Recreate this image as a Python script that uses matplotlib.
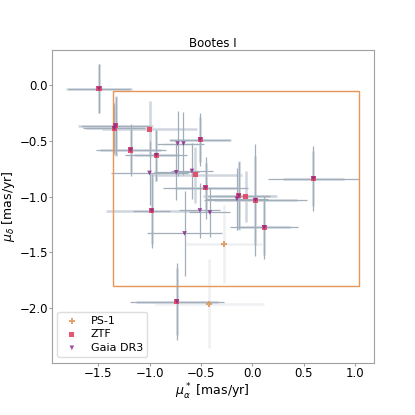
import matplotlib
matplotlib.use("Agg")
import matplotlib.pyplot as plt
from matplotlib.patches import Rectangle

# Gaia DR3 proper motions (mas/yr)
gaia_pmra = [-1.49, -1.33, -1.343, -1.184, -0.935, -0.728, -0.670, -0.508, -1.000, -0.741,
             -0.588, -0.456, -0.977, -0.511, -0.414, -0.660, -0.132, -0.151, 0.029, 0.592,
             0.114, -0.734]
gaia_pmdec = [-0.030, -0.362, -0.385, -0.580, -0.627, -0.522, -0.522, -0.487, -0.786, -0.780,
              -0.768, -0.920, -1.126, -1.123, -1.141, -1.329, -0.992, -1.019, -1.030, -0.836,
              -1.275, -1.942]
gaia_pmra_err = [0.30, 0.34, 0.30, 0.34, 0.30, 0.20, 0.20, 0.29, 0.37, 0.22,
                 0.20, 0.41, 0.18, 0.20, 0.20, 0.36, 0.30, 0.30, 0.50, 0.44,
                 0.33, 0.46]
gaia_pmdec_err = [0.22, 0.26, 0.22, 0.23, 0.23, 0.29, 0.28, 0.24, 0.29, 0.25,
                  0.25, 0.28, 0.33, 0.25, 0.22, 0.38, 0.30, 0.28, 0.50, 0.29,
                  0.28, 0.345]

# ZTF proper motions (mas/yr)
ztf_pmra = [-1.49, -1.33, -1.343, -1.000, -1.184, -0.935, -0.508, -0.554, -0.456, -0.977,
            -0.132, -0.066, 0.029, 0.592, 0.114, -0.734]
ztf_pmdec = [-0.030, -0.362, -0.385, -0.394, -0.580, -0.627, -0.487, -0.802, -0.920, -1.126,
             -0.992, -0.995, -1.030, -0.836, -1.275, -1.942]
ztf_pmra_err = [0.32, 0.36, 0.27, 0.46, 0.30, 0.22, 0.30, 0.45, 0.30, 0.45,
                0.35, 0.30, 0.40, 0.30, 0.25, 0.40]
ztf_pmdec_err = [0.22, 0.27, 0.24, 0.25, 0.20, 0.23, 0.20, 0.25, 0.22, 0.30,
                 0.31, 0.23, 0.40, 0.25, 0.25, 0.30]

# PS-1 proper motions (mas/yr)
ps1_pmra = [-0.278, -0.420]
ps1_pmdec = [-1.422, -1.962]
ps1_pmra_err = [0.37, 0.53]
ps1_pmdec_err = [0.35, 0.40]

# selection box in proper-motion space
box_pmra = [-1.355, 1.033]
box_pmdec = [-1.80, -0.054]

fig, ax = plt.subplots(figsize=(4.15, 4.15), dpi=100)
fig.subplots_adjust(left=0.125, right=0.9, top=0.88, bottom=0.126)

ax.errorbar(ps1_pmra, ps1_pmdec, xerr=ps1_pmra_err, yerr=ps1_pmdec_err,
            fmt="none", ecolor="#eef0f3", elinewidth=1.8, zorder=1)
ax.errorbar(ztf_pmra, ztf_pmdec, xerr=ztf_pmra_err, yerr=ztf_pmdec_err,
            fmt="none", ecolor="#d0d6de", elinewidth=1.8, zorder=2)
ax.errorbar(gaia_pmra, gaia_pmdec, xerr=gaia_pmra_err, yerr=gaia_pmdec_err,
            fmt="none", ecolor="#a3aebb", elinewidth=0.9, zorder=3)

ax.scatter(ps1_pmra, ps1_pmdec, marker="P", s=16, color="#dd9a5e", alpha=0.9,
           edgecolors="none", label="PS-1", zorder=4)
ax.scatter(ztf_pmra, ztf_pmdec, marker="s", s=14, color="#e5435f", alpha=0.9,
           edgecolors="none", label="ZTF", zorder=5)
ax.scatter(gaia_pmra, gaia_pmdec, marker="v", s=11, color="#8b2a8e", alpha=0.85,
           edgecolors="none", label="Gaia DR3", zorder=6)

ax.add_patch(Rectangle((box_pmra[0], box_pmdec[0]), box_pmra[1] - box_pmra[0],
                       box_pmdec[1] - box_pmdec[0], fill=False,
                       edgecolor="#e8955a", linewidth=1.0, zorder=3.5))

ax.set_xlim(-1.948, 1.175)
ax.set_ylim(-2.49, 0.32)
ax.set_xticks([-1.5, -1.0, -0.5, 0.0, 0.5, 1.0])
ax.set_yticks([-2.0, -1.5, -1.0, -0.5, 0.0])
ax.tick_params(length=2, width=0.8, color="#a0a0a0", pad=0.8, labelsize=8.5)
for spine in ax.spines.values():
    spine.set_color("#a0a0a0")

ax.set_title("Bootes I", fontsize=8.5, pad=1.5)
ax.set_xlabel(r"$\mu_\alpha^*$ [mas/yr]", fontsize=9, labelpad=1.5)
ax.set_ylabel(r"$\mu_\delta$ [mas/yr]", fontsize=9, labelpad=1.5)

ax.legend(loc="lower left", fontsize=8, handlelength=1.8, handletextpad=0.8,
          labelspacing=0.3, borderpad=0.4, framealpha=1, edgecolor="#dddddd")

fig.savefig("out.png", dpi=100)
